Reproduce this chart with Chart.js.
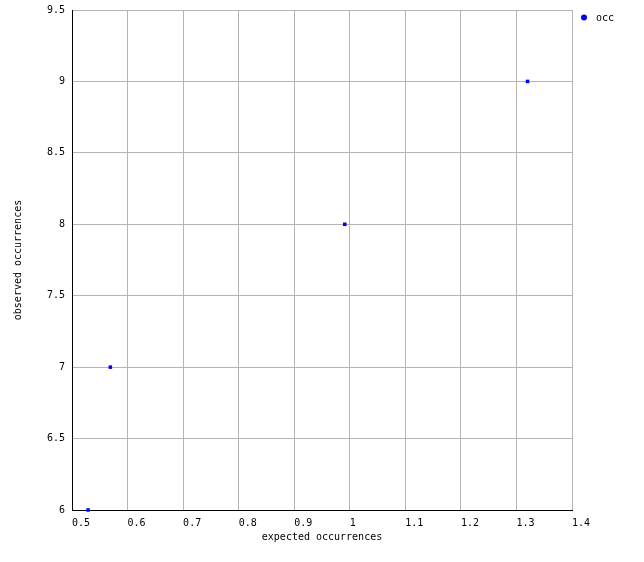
<!DOCTYPE html>
<html lang="en">
  <head>
    <meta charset="utf-8" />
    <title>observed vs expected occurrences</title>
    <style>
      * {
        margin: 0;
        padding: 0;
      }
      body {
        background: white;
      }
    </style>
  </head>
  <body>
    <canvas id="myChart" width="644" height="562"></canvas>

    <script src="https://cdn.jsdelivr.net/npm/chart.js@4/dist/chart.umd.min.js"></script>

    <script>
      const seriesName = "occ";
      const expectedValues = [0.529, 0.569, 0.991, 1.32];
      const observedValues = [6, 7, 8, 9];
      const xTicks = [0.5, 0.6, 0.7, 0.8, 0.9, 1, 1.1, 1.2, 1.3, 1.4];
      const yTicks = [6, 6.5, 7, 7.5, 8, 8.5, 9, 9.5];

      const FONT = "'DejaVu Sans Mono', monospace";
      const gridGray = "#b4b4b4";

      // legend drawn by hand at the top right
      const sideLegend = {
        id: "sideLegend",
        afterDraw(chart) {
          const { ctx } = chart;
          ctx.save();
          ctx.fillStyle = "#0000ff";
          ctx.beginPath();
          ctx.arc(584, 17.5, 3, 0, Math.PI * 2);
          ctx.fill();
          ctx.fillStyle = "#000";
          ctx.font = "10px " + FONT;
          ctx.textAlign = "left";
          ctx.textBaseline = "middle";
          ctx.fillText(chart.data.datasets[0].label, 596, 18);
          ctx.restore();
        },
      };

      const config = {
        type: "scatter",
        data: {
          datasets: [
            {
              label: seriesName,
              data: expectedValues.map((x, i) => ({ x: x, y: observedValues[i] })),
              backgroundColor: "#0000ff",
              borderWidth: 0,
              pointStyle: "rect",
              pointRadius: 2.5,
              pointHoverRadius: 2.5,
              clip: false,
            },
          ],
        },
        options: {
          responsive: false,
          animation: false,
          layout: {
            padding: { top: 10, right: 72, left: 0, bottom: 0 },
          },
          plugins: {
            legend: { display: false },
            tooltip: { enabled: false },
          },
          scales: {
            x: {
              type: "linear",
              min: 0.5,
              max: 1.4,
              afterBuildTicks(scale) {
                scale.ticks = xTicks.map((v) => ({ value: v }));
              },
              afterFit(scale) {
                scale.height = 52;
                scale.paddingLeft = 0;
                scale.paddingRight = 0;
              },
              border: { color: "#000", width: 1 },
              grid: { color: gridGray, drawTicks: false },
              ticks: {
                align: "start",
                padding: 7,
                color: "#000",
                font: { family: FONT, size: 10 },
                callback: (v) => String(v),
              },
              title: {
                display: true,
                text: "expected occurrences",
                color: "#000",
                font: { family: FONT, size: 10 },
                padding: { top: 0, bottom: 19 },
              },
            },
            y: {
              type: "linear",
              min: 6,
              max: 9.5,
              afterBuildTicks(scale) {
                scale.ticks = yTicks.map((v) => ({ value: v }));
              },
              afterFit(scale) {
                scale.width = 72;
                scale.paddingTop = 0;
                scale.paddingBottom = 0;
              },
              border: { color: "#000", width: 1 },
              grid: { color: gridGray, drawTicks: false },
              ticks: {
                padding: 7,
                color: "#000",
                font: { family: FONT, size: 10 },
                callback: (v) => String(v),
              },
              title: {
                display: true,
                text: "observed occurrences",
                color: "#000",
                font: { family: FONT, size: 10 },
                padding: { top: 12, bottom: 0 },
              },
            },
          },
        },
        plugins: [sideLegend],
      };

      const myChart = new Chart(document.getElementById("myChart"), config);
    </script>
  </body>
</html>
